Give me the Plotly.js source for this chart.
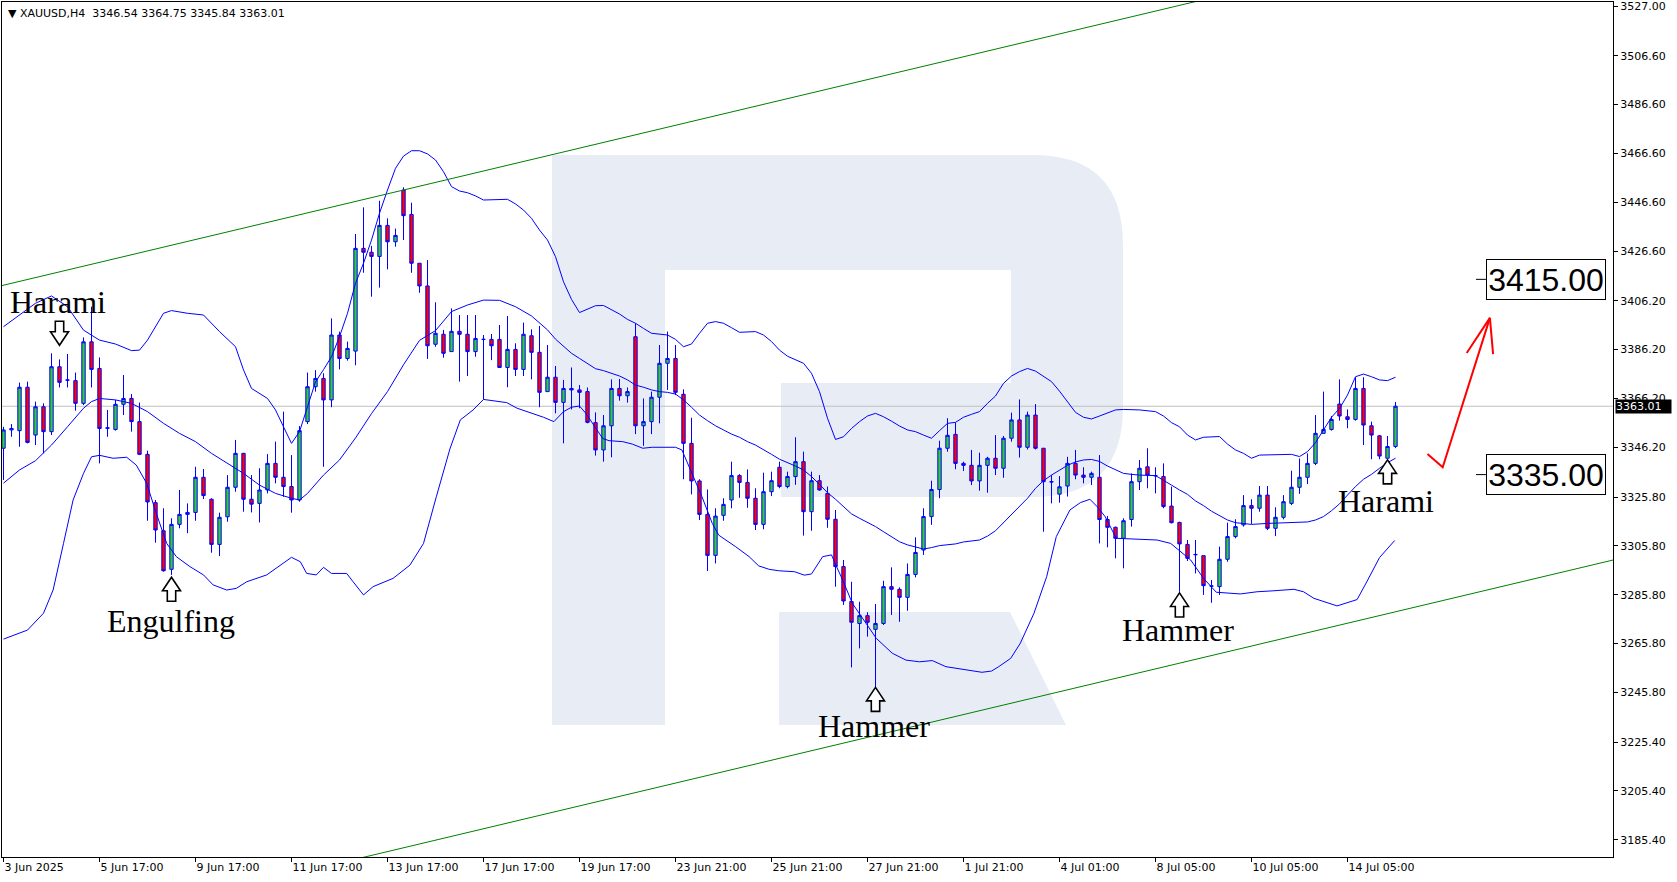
<!DOCTYPE html>
<html>
<head>
<meta charset="utf-8">
<script src="https://cdn.plot.ly/plotly-3.0.1.min.js"></script>
<style>
html,body{margin:0;padding:0;background:#ffffff;}
#chart{width:1677px;height:882px;}
</style>
</head>
<body>
<div id="chart"></div>
<script>
// ---------------- DATA ----------------
const symbolHeader = "\u25BC XAUUSD,H4\u00a0\u00a03346.54 3364.75 3345.84 3363.01";

const open = [3345.8,3353.3,3353.0,3370.8,3351.2,3362.8,3352.6,3379.2,3373.8,3373.5,
3364.2,3389.4,3378.5,3354.2,3353.5,3363.8,3366.2,3356.7,3343.3,3323.5,
3312.0,3296.2,3314.6,3318.7,3319.5,3333.9,3324.9,3306.4,3317.7,3329.8,
3343.7,3324.9,3323.2,3328.7,3339.6,3333.9,3330.1,3324.6,3356.7,3371.0,
3374.4,3365.6,3392.2,3382.6,3385.6,3427.7,3426.1,3424.4,3437.1,3430.4,
3451.6,3441.6,3421.6,3412.3,3388.4,3392.5,3385.4,3393.7,3392.5,3385.4,
3390.4,3390.4,3390.4,3378.9,3386.3,3378.1,3391.9,3385.1,3369.0,3374.9,
3364.6,3370.3,3369.7,3369.0,3356.3,3345.1,3355.0,3370.3,3367.3,3391.5,
3355.0,3356.7,3366.7,3380.6,3382.6,3367.9,3347.8,3332.4,3318.7,3301.9,
3318.3,3324.6,3334.6,3331.8,3325.3,3314.6,3328.0,3338.0,3330.1,3334.2,
3340.3,3319.8,3332.5,3327.3,3316.7,3297.3,3283.0,3274.0,3277.2,3271.6,
3274.0,3289.1,3288.0,3284.7,3294.1,3304.1,3317.8,3328.9,3345.8,3351.5,
3339.6,3338.8,3332.4,3338.8,3341.7,3337.6,3349.9,3357.4,3346.2,3359.4,
3345.8,3332.1,3327.0,3330.3,3339.6,3334.8,3333.9,3333.9,3316.6,3313.4,
3308.9,3316.6,3332.1,3338.2,3334.6,3334.2,3322.1,3315.4,3306.4,3302.3,
3301.8,3289.4,3289.1,3300.3,3309.6,3314.4,3322.3,3321.2,3326.6,3313.0,
3317.5,3323.2,3329.8,3333.9,3339.6,3351.9,3353.5,3363.9,3358.7,3357.6,
3370.3,3355.0,3350.9,3341.7,3346.54];

const high = [3354.6,3355.7,3372.7,3373.1,3364.9,3364.2,3384.7,3382.2,3384.4,3376.8,
3391.2,3403.8,3383.0,3361.5,3365.6,3375.8,3368.0,3364.5,3344.8,3324.6,
3321.2,3317.1,3328.7,3323.2,3338.2,3337.3,3325.3,3319.4,3334.8,3349.2,
3343.9,3334.8,3337.6,3343.4,3348.5,3360.8,3343.0,3354.9,3376.8,3377.8,
3376.5,3399.0,3393.6,3389.5,3433.6,3444.5,3428.7,3447.2,3440.0,3435.8,
3452.7,3446.4,3421.6,3422.9,3405.6,3394.3,3403.1,3400.4,3400.4,3400.4,
3392.2,3392.6,3396.3,3400.0,3388.8,3397.3,3394.5,3395.9,3388.1,3379.5,
3373.8,3378.9,3371.7,3370.7,3360.5,3359.4,3374.0,3374.2,3370.7,3397.0,
3366.2,3369.0,3388.1,3393.6,3388.1,3369.9,3358.3,3333.1,3328.9,3321.2,
3325.3,3340.3,3335.2,3337.1,3329.4,3335.8,3336.2,3340.3,3336.2,3350.3,
3344.4,3336.2,3334.8,3330.1,3320.5,3300.0,3291.1,3282.9,3278.6,3282.0,
3291.5,3297.0,3288.8,3298.6,3309.3,3321.2,3332.5,3348.9,3358.1,3356.3,
3340.3,3345.1,3344.0,3342.3,3351.2,3350.8,3360.4,3365.8,3360.8,3363.9,
3345.8,3334.8,3334.4,3342.3,3345.1,3338.0,3336.2,3343.0,3318.0,3313.7,
3317.1,3335.5,3341.0,3345.8,3338.0,3339.6,3330.1,3315.7,3308.2,3308.2,
3301.8,3291.8,3305.5,3315.3,3316.7,3326.6,3324.9,3330.3,3330.3,3321.6,
3326.6,3336.6,3341.6,3343.7,3359.4,3369.0,3359.0,3374.0,3361.7,3374.9,
3374.9,3356.7,3351.2,3350.8,3364.75];

const low = [3332.8,3350.5,3346.4,3347.8,3347.1,3343.7,3351.2,3370.7,3370.7,3361.2,
3363.5,3370.7,3339.6,3350.5,3353.0,3359.4,3352.6,3343.0,3316.1,3307.1,
3295.2,3293.9,3313.0,3311.0,3316.1,3325.0,3303.0,3301.6,3315.7,3328.0,
3319.8,3319.5,3315.4,3327.3,3331.4,3325.9,3319.4,3323.9,3355.7,3369.0,
3338.2,3362.6,3378.1,3381.7,3379.8,3417.7,3407.9,3411.6,3419.1,3428.4,
3431.1,3417.7,3409.5,3382.4,3387.4,3382.9,3385.4,3373.1,3375.4,3383.3,
3365.8,3381.9,3378.9,3370.8,3375.4,3375.4,3374.0,3362.6,3369.0,3360.1,
3347.8,3361.7,3362.2,3356.0,3342.8,3340.3,3342.1,3365.3,3364.5,3351.6,
3346.8,3351.6,3356.0,3369.7,3367.6,3333.1,3326.9,3316.4,3295.5,3298.6,
3316.1,3321.2,3325.5,3321.4,3312.3,3312.6,3326.2,3329.4,3329.4,3330.8,
3310.0,3312.0,3328.4,3313.2,3289.1,3281.6,3256.0,3263.8,3268.6,3247.4,
3273.4,3277.5,3274.7,3279.2,3292.9,3302.1,3314.4,3325.3,3344.4,3337.2,
3336.5,3330.7,3328.4,3327.6,3334.8,3333.7,3348.5,3342.0,3345.3,3345.3,
3311.6,3323.2,3323.5,3326.0,3333.1,3331.4,3330.7,3306.8,3305.2,3300.7,
3296.6,3313.7,3328.7,3329.4,3327.3,3321.2,3315.0,3287.0,3299.6,3294.5,
3285.7,3282.5,3285.7,3299.3,3308.9,3313.7,3314.8,3319.8,3312.3,3309.8,
3316.7,3322.5,3327.1,3331.1,3338.9,3351.9,3353.0,3357.1,3354.0,3357.1,
3347.1,3341.3,3341.3,3341.7,3345.84];

const close = [3353.3,3353.9,3370.8,3348.2,3362.8,3352.6,3379.2,3372.8,3373.7,3364.2,
3389.4,3378.1,3353.9,3354.0,3363.8,3366.2,3356.7,3343.3,3323.8,3312.3,
3295.6,3314.6,3318.7,3319.5,3333.9,3326.4,3306.4,3317.5,3329.8,3343.7,
3324.9,3322.9,3328.7,3339.6,3333.9,3330.1,3324.6,3353.0,3371.0,3374.4,
3365.6,3392.2,3382.6,3386.7,3427.7,3426.1,3424.4,3437.1,3430.4,3433.0,
3441.1,3421.6,3412.3,3387.8,3392.9,3384.7,3393.7,3392.5,3385.4,3390.8,
3390.4,3387.8,3378.9,3386.3,3378.1,3392.5,3385.1,3368.7,3374.9,3364.6,
3370.3,3369.7,3368.7,3356.4,3345.1,3355.0,3370.3,3367.3,3369.0,3355.0,
3356.7,3366.7,3380.6,3382.6,3368.7,3347.8,3332.4,3318.7,3301.9,3318.0,
3322.8,3334.6,3331.8,3325.3,3314.6,3328.0,3332.5,3330.1,3334.2,3340.3,
3319.8,3332.5,3328.7,3316.7,3297.3,3283.2,3274.5,3277.2,3274.5,3274.0,
3289.1,3288.0,3284.7,3294.1,3303.1,3317.8,3328.9,3345.8,3351.1,3339.6,
3338.8,3332.4,3338.8,3341.7,3337.6,3349.9,3357.4,3346.2,3359.4,3345.8,
3332.1,3332.0,3330.0,3339.6,3334.8,3333.9,3335.5,3316.6,3313.4,3308.9,
3316.1,3332.1,3337.6,3334.8,3334.5,3321.9,3315.3,3306.6,3300.7,3302.2,
3289.5,3289.3,3300.3,3309.6,3313.7,3322.3,3321.2,3326.6,3313.0,3317.5,
3323.9,3329.8,3333.9,3339.6,3351.9,3353.5,3357.6,3359.0,3357.6,3370.3,
3355.3,3351.2,3342.6,3346.5,3363.01];

// Bollinger bands (bar index, price)
const bbUpperIdx = [0,2,4,6,8,10,12,14,16,17,18,20,21,23,25,27,29,30,31,33,34,35,36,37,38,39,40,41,42,43,44,45,46,47,48,49,50,51,52,53,54,55,56,57,58,59,60,62,63,64,65,66,67,68,69,70,71,72,73,74,75,76,77,78,79,80,81,83,84,85,86,87,88,89,90,91,92,94,95,96,97,98,99,100,101,102,103,104,105,106,107,108,109,110,111,112,113,114,115,116,117,118,119,120,121,122,123,124,125,126,127,128,129,130,131,132,133,134,135,136,137,138,139,140,142,144,145,146,147,148,149,150,152,153,154,155,156,157,160,161,162,163,164,165,166,167,168,169,170,171,172,173,174];
const bbUpper = [3395.6,3400.4,3405.2,3408.2,3403.8,3394.2,3390.1,3388.5,3385.8,3386.0,3390.1,3401.1,3402.2,3401.1,3400.4,3393.6,3387.4,3377.9,3370.3,3366.2,3361.5,3354.6,3347.8,3352.6,3362.8,3373.0,3378.0,3383.3,3391.5,3401.1,3413.4,3421.6,3431.1,3442.1,3451.6,3460.5,3465.5,3467.7,3467.7,3466.4,3463.9,3459.1,3453.0,3451.2,3450.5,3449.2,3447.5,3447.8,3447.8,3445.9,3443.4,3440.0,3435.2,3431.1,3424.3,3414.0,3406.8,3401.4,3402.7,3404.2,3404.3,3402.7,3400.8,3398.6,3397.0,3394.9,3392.9,3392.2,3390.4,3387.4,3388.5,3392.9,3397.0,3397.7,3397.0,3395.2,3393.3,3393.6,3392.2,3389.5,3386.0,3383.5,3381.9,3380.6,3376.5,3369.0,3358.1,3349.4,3350.5,3353.9,3356.7,3359.0,3360.1,3358.7,3356.9,3354.9,3353.3,3352.6,3351.2,3349.9,3353.0,3356.0,3356.4,3358.5,3359.7,3360.8,3364.2,3367.2,3372.4,3375.4,3377.2,3378.5,3377.4,3375.4,3373.1,3369.2,3364.6,3360.5,3358.5,3357.8,3359.0,3360.4,3361.5,3361.7,3361.5,3360.8,3359.0,3356.3,3354.6,3351.2,3349.2,3350.3,3350.6,3347.5,3345.1,3343.7,3341.7,3343.0,3343.3,3343.3,3342.4,3344.4,3348.1,3353.3,3358.5,3362.1,3367.6,3375.1,3376.2,3375.1,3373.8,3373.5,3374.9];

const bbMiddleIdx = [0,2,4,6,8,10,11,12,14,16,18,20,22,24,26,28,30,32,34,36,37,38,40,42,44,46,48,50,52,54,56,58,60,62,64,66,68,69,70,71,72,73,74,75,76,77,78,79,80,81,82,83,84,85,86,87,88,89,90,91,92,93,94,95,96,97,98,99,100,101,102,103,104,105,106,107,108,109,110,111,112,113,114,115,116,117,119,120,122,123,124,125,126,127,128,129,130,131,132,133,134,135,136,137,138,139,140,141,142,144,145,146,147,148,149,150,151,152,153,154,155,156,158,161,163,164,165,166,167,168,169,170,171,172,173,174];
const bbMiddle = [3331.5,3336.9,3340.7,3347.1,3354.6,3362.2,3364.9,3366.2,3365.6,3364.2,3360.8,3356.0,3351.9,3348.5,3343.7,3339.6,3335.5,3330.7,3327.3,3325.3,3324.6,3327.3,3334.8,3341.0,3350.0,3360.0,3369.0,3380.0,3390.0,3394.0,3401.8,3404.5,3406.5,3406.4,3403.8,3400.0,3394.3,3390.5,3387.4,3384.7,3382.6,3380.6,3378.4,3377.6,3376.5,3375.4,3373.8,3371.7,3370.8,3369.7,3369.0,3368.7,3368.0,3365.6,3362.6,3359.4,3357.1,3355.0,3353.3,3351.6,3350.3,3348.5,3347.1,3345.3,3343.3,3341.3,3340.0,3338.5,3336.9,3334.2,3331.0,3327.6,3324.9,3321.9,3318.9,3317.1,3315.4,3313.7,3311.6,3309.6,3307.5,3306.2,3305.2,3304.5,3305.1,3305.9,3306.6,3307.4,3308.2,3309.8,3312.0,3315.3,3318.9,3321.9,3325.3,3329.4,3332.5,3334.8,3336.9,3338.8,3340.2,3341.0,3341.2,3340.4,3338.5,3336.9,3335.5,3335.1,3334.8,3334.6,3332.8,3330.7,3328.7,3326.9,3324.2,3322.3,3320.0,3318.2,3316.4,3315.3,3314.8,3314.6,3315.0,3315.4,3315.6,3316.4,3317.8,3320.2,3323.0,3326.6,3330.1,3333.1,3335.1,3337.6,3339.9,3341.7];

const bbLowerIdx = [0,3,5,6.2,7.5,8.7,10,11,12,13.7,15.4,16.6,17.9,19.1,20.4,21.6,23.3,25,26.2,27.9,29.1,30.4,32.9,34.6,36,37.1,37.9,39.1,40,41,42.9,43.7,45,46.2,48.7,50.8,52.5,54.1,55.8,57.1,58.7,60,62.9,64.2,65.8,67.5,68.8,70,71,72,72.8,73.6,74.9,75.7,77.4,78.6,79.9,81.1,84,84.8,86.1,87.3,88.6,89.4,91.5,93.2,94.4,95.7,96.9,98.9,100.1,101,102.4,103.5,104.1,104.9,106.1,107.8,109.1,111.1,112.8,114.5,116.1,117.8,119.8,122.3,123.5,124.4,125.9,127.1,128.8,130.4,131.6,133.3,134.6,135.8,136.7,137.7,139.1,140.8,144.2,145.9,147.1,148.4,150,151.6,154.6,156.7,158.8,161.3,162.5,163.8,166.7,169.2,170.4,172,173.9];
const bbLower = [3267.6,3271.3,3278.2,3287.7,3306.8,3324.6,3335.5,3342.3,3342.9,3341.7,3342.1,3338.9,3331.4,3319.1,3306.8,3301.4,3297.3,3293.9,3289.8,3287.7,3288.4,3291.1,3293.9,3297.9,3301.1,3299.3,3294.5,3293.9,3297.0,3294.5,3294.5,3291.1,3285.7,3289.1,3292.5,3297.9,3306.8,3325.9,3345.5,3357.4,3361.5,3365.8,3364.5,3362.2,3360.4,3358.5,3356.7,3360.8,3362.6,3363.1,3360.1,3356.0,3349.8,3348.9,3348.5,3347.5,3345.8,3346.2,3346.2,3345.1,3335.5,3326.0,3315.0,3310.2,3305.5,3301.4,3297.6,3296.2,3295.6,3295.2,3293.8,3294.3,3301.4,3302.1,3297.5,3291.8,3282.3,3274.1,3267.9,3261.8,3259.0,3258.3,3258.8,3256.3,3255.2,3254.0,3254.5,3256.3,3259.7,3265.9,3278.1,3293.2,3309.6,3320.5,3323.5,3324.9,3321.9,3317.8,3308.9,3308.6,3308.2,3306.8,3303.4,3300.0,3292.5,3286.8,3286.1,3287.0,3287.4,3288.0,3287.0,3284.3,3281.2,3283.8,3291.0,3301.0,3308.0];

// channel lines (bar index, price)
const channelUpperIdx = [-0.2, 155];
const channelUpper = [3412.45, 3533.5];
const channelLowerIdx = [40, 201.2];
const channelLower = [3174.3, 3300.0];

// forecast arrow (bar index, price)
const forecastIdx = [178.0, 179.9, 185.8];
const forecastPrice = [3343.4, 3338.0, 3399.2];
const forecastHeadIdx = [182.9, 185.8, 186.2];
const forecastHeadPrice = [3384.8, 3399.2, 3384.4];

const currentPrice = 3363.01;
const targetLevels = [3415.00, 3335.00];

const tickIdx = [0,12,24,36,48,60,72,84,96,108,120,132,144,156,168];
const tickText = ["3 Jun 2025","5 Jun 17:00","9 Jun 17:00","11 Jun 17:00","13 Jun 17:00","17 Jun 17:00","19 Jun 17:00","23 Jun 21:00","25 Jun 21:00","27 Jun 21:00","1 Jul 21:00","4 Jul 01:00","8 Jul 05:00","10 Jul 05:00","14 Jul 05:00"];
const priceTicks = [3527.00,3506.60,3486.60,3466.60,3446.60,3426.60,3406.20,3386.20,3366.20,3346.20,3325.80,3305.80,3285.80,3265.80,3245.80,3225.40,3205.40,3185.40];

// pattern labels
const patternText = ["Harami","Engulfing","Hammer","Hammer","Harami"];
const patternTextIdx = [6.8, 20.98, 108.8, 146.8, 172.8];
const patternTextPrice = [3405.6, 3274.9, 3232.1, 3271.3, 3324.3];
const patternArrowIdx = [7, 21, 109, 147, 173];
const patternArrowPrice = [3392.9, 3288.0, 3242.9, 3281.6, 3336.1];
const patternArrowDir = ["down","up","up","up","up"];

// ---------------- DRAWING ----------------
const barIndex = open.map((_, i) => i);

// plot-area geometry (pixels) for the decorative watermark
const PA = {l: 2, t: 2, w: 1611, h: 855};
function pathToPaper(cmds) {
  return cmds.map(c => {
    const op = c[0];
    const nums = c.slice(1);
    const out = [];
    for (let k = 0; k < nums.length; k += 2) {
      const px = (nums[k] - PA.l) / PA.w;
      const py = 1 - (nums[k + 1] - PA.t) / PA.h;
      out.push(px.toFixed(5) + ',' + py.toFixed(5));
    }
    return op + out.join(' ');
  }).join(' ') + ' Z';
}
const logoBody = pathToPaper([
  ['M',552,155],['L',1033,155],['Q',1123,155,1123,245],['L',1123,407],['Q',1123,497,1033,497],
  ['L',781,497],['L',781,383],['L',1011,383],['L',1011,270],['L',665,270],['L',665,725],['L',552,725]
]);
const logoLeg = pathToPaper([['M',779,612],['L',1010,612],['L',1066,725],['L',779,725]]);

const traces = [
  {
    type: 'candlestick', x: barIndex, open: open, high: high, low: low, close: close,
    increasing: {line: {color: '#0000ff', width: 1}, fillcolor: '#32cd32'},
    decreasing: {line: {color: '#0000ff', width: 1}, fillcolor: '#ff0000'},
    whiskerwidth: 0, hoverinfo: 'skip', showlegend: false
  },
  {type: 'scatter', mode: 'lines', x: bbUpperIdx, y: bbUpper, line: {color: '#0000ff', width: 1}, hoverinfo: 'skip'},
  {type: 'scatter', mode: 'lines', x: bbMiddleIdx, y: bbMiddle, line: {color: '#0000ff', width: 1}, hoverinfo: 'skip'},
  {type: 'scatter', mode: 'lines', x: bbLowerIdx, y: bbLower, line: {color: '#0000ff', width: 1}, hoverinfo: 'skip'},
  {type: 'scatter', mode: 'lines', x: channelUpperIdx, y: channelUpper, line: {color: '#008000', width: 1}, hoverinfo: 'skip'},
  {type: 'scatter', mode: 'lines', x: channelLowerIdx, y: channelLower, line: {color: '#008000', width: 1}, hoverinfo: 'skip'},
  {type: 'scatter', mode: 'lines', x: forecastIdx, y: forecastPrice, line: {color: '#ff0000', width: 2}, hoverinfo: 'skip'},
  {type: 'scatter', mode: 'lines', x: forecastHeadIdx, y: forecastHeadPrice, line: {color: '#ff0000', width: 2}, hoverinfo: 'skip'}
];

const shapes = [
  {type: 'path', xref: 'paper', yref: 'paper', path: logoBody, fillcolor: '#e8edf5', line: {width: 0}, layer: 'below'},
  {type: 'path', xref: 'paper', yref: 'paper', path: logoLeg, fillcolor: '#e8edf5', line: {width: 0}, layer: 'below'},
  {type: 'line', xref: 'paper', x0: 0, x1: 1, yref: 'y', y0: currentPrice, y1: currentPrice,
   line: {color: '#c0c0c0', width: 1}, layer: 'below'}
];
targetLevels.forEach(v => {
  shapes.push({type: 'line', xref: 'x', x0: 184.06, x1: 185.3, yref: 'y', y0: v, y1: v, line: {color: '#000', width: 1}});
});
const upPath = 'M 0 12 L 9 -1.5 L 4.2 -1.5 L 4.2 -12 L -4.2 -12 L -4.2 -1.5 L -9 -1.5 Z';
const downPath = 'M 0 -12 L 9 1.5 L 4.2 1.5 L 4.2 12 L -4.2 12 L -4.2 1.5 L -9 1.5 Z';
patternArrowIdx.forEach((xi, k) => {
  shapes.push({
    type: 'path', xref: 'x', yref: 'y', xsizemode: 'pixel', ysizemode: 'pixel',
    xanchor: xi, yanchor: patternArrowPrice[k],
    path: patternArrowDir[k] === 'up' ? upPath : downPath,
    fillcolor: '#ffffff', line: {color: '#000000', width: 1.6}, layer: 'above'
  });
});

const annotations = [
  {xref: 'paper', yref: 'paper', x: 0.0028, y: 0.9868, xanchor: 'left', yanchor: 'middle',
   text: symbolHeader, showarrow: false, borderpad: 0,
   font: {family: 'DejaVu Sans', size: 11, color: '#000'}},
  {xref: 'paper', yref: 'y', x: 1.0012, y: currentPrice, xanchor: 'left', yanchor: 'middle',
   text: currentPrice.toFixed(2), showarrow: false, bgcolor: '#000000', borderpad: 0,
   width: 55, height: 13, align: 'left',
   font: {family: 'DejaVu Sans', size: 11, color: '#ffffff'}}
];
targetLevels.forEach(v => {
  annotations.push({xref: 'x', yref: 'y', x: 185.3, y: v, xanchor: 'left', yanchor: 'middle',
    text: v.toFixed(2), showarrow: false, bgcolor: '#ffffff', bordercolor: '#000000', borderwidth: 1,
    borderpad: 2, width: 114, height: 35,
    font: {family: 'Liberation Sans', size: 32, color: '#000'}});
});
patternText.forEach((t, k) => {
  annotations.push({xref: 'x', yref: 'y', x: patternTextIdx[k], y: patternTextPrice[k],
    xanchor: 'center', yanchor: 'middle', text: t, showarrow: false,
    font: {family: 'Liberation Serif', size: 32, color: '#000'}});
});

const layout = {
  width: 1677, height: 882,
  margin: {l: 2, r: 64, t: 2, b: 25, pad: 0},
  paper_bgcolor: '#ffffff', plot_bgcolor: '#ffffff',
  showlegend: false, hovermode: false, boxgap: 0.4,
  xaxis: {
    type: 'linear', range: [-0.1875, 201.1875], rangeslider: {visible: false},
    showgrid: false, zeroline: false, tickmode: 'array', tickvals: tickIdx, ticktext: tickText,
    ticks: 'outside', ticklen: 4, tickcolor: '#000', tickwidth: 1, ticklabelposition: 'outside right',
    ticklabeloverflow: 'allow',
    tickfont: {family: 'DejaVu Sans', size: 11, color: '#000'},
    showline: true, linecolor: '#000', linewidth: 1, mirror: true, fixedrange: true
  },
  yaxis: {
    side: 'right', range: [3178.32, 3528.64], showgrid: false, zeroline: false,
    tickmode: 'array', tickvals: priceTicks, ticktext: priceTicks.map(v => v.toFixed(2)),
    ticks: 'outside', ticklen: 4, tickcolor: '#000', tickwidth: 1, ticklabeloverflow: 'allow',
    tickfont: {family: 'DejaVu Sans', size: 11, color: '#000'},
    showline: true, linecolor: '#000', linewidth: 1, mirror: true, fixedrange: true
  },
  shapes: shapes,
  annotations: annotations
};

Plotly.newPlot('chart', traces, layout, {staticPlot: true, displayModeBar: false});
</script>
</body>
</html>
